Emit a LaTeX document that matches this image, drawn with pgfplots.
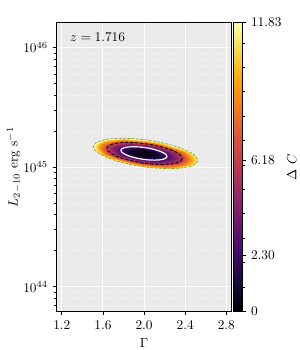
\documentclass[border=0pt]{standalone}
\usepackage{pgfplots}
\pgfplotsset{compat=1.18}
\pgfplotsset{colormap={inferno}{rgb255=(0,0,4) rgb255=(22,11,57) rgb255=(66,10,104) rgb255=(106,23,110) rgb255=(147,38,103) rgb255=(188,55,84) rgb255=(221,81,58) rgb255=(243,120,25) rgb255=(252,165,10) rgb255=(246,215,70) rgb255=(252,255,164)}}
\definecolor{bgg}{RGB}{234,234,234}
\definecolor{oliveline}{RGB}{150,150,60}
\begin{document}
\begin{tikzpicture}
\path[use as bounding box] (-42.5pt,-28.9pt) rectangle (182.5pt,233.6pt);
\begin{axis}[
  scale only axis, width=131.1pt, height=216.6pt,
  xmin=1.15, xmax=2.85, ymin=43.793, ymax=46.207,
  xtick={1.2,1.6,2.0,2.4,2.8}, xticklabels={1.2,1.6,2.0,2.4,2.8},
  ytick={44,45,46}, yticklabels={$10^{44}$,$10^{45}$,$10^{46}$},
  minor ytick={43.8451,43.9031,43.9542,44.3010,44.4771,44.6021,44.6990,44.7782,44.8451,44.9031,44.9542,45.3010,45.4771,45.6021,45.6990,45.7782,45.8451,45.9031,45.9542},
  tick align=outside, xtick pos=bottom, ytick pos=left,
  major tick length=3pt, minor tick length=1.7pt,
  tick style={black, line width=0.6pt},
  xmajorgrids=true, ymajorgrids=true, yminorgrids=true,
  major grid style={white, line width=0.8pt},
  minor grid style={white, dotted, line width=0.5pt},
  axis line style={line width=0.75pt},
  axis background/.style={fill=bgg},
  xlabel={$\Gamma$}, ylabel={$L_{2-10}$ erg s$^{-1}$},
  ylabel shift=-5pt,
  colormap name=inferno, point meta min=0, point meta max=11.83,
  colorbar shift/.style={xshift=0pt},
  colorbar,
  colorbar style={
    at={(parent axis.north east)}, anchor=north west, xshift=1.4pt,
    width=6.75pt,
    ytick={0,2.30,6.18,11.83}, yticklabels={0,2.30,6.18,11.83},
    minor ytick={1,2,3,4,5,6,7,8,9,10,11},
    tick align=outside, ytick pos=right,
    major tick length=3pt, minor tick length=1.7pt,
    axis line style={line width=0.6pt},
    ylabel={$\Delta\ C$},
    ylabel shift=-2.5pt,
  },
]
\addplot[surf, shader=interp, mesh/rows=7, mesh/cols=25, point meta=explicit] table[meta index=2] {
1.9950 45.1140 0
1.9950 45.1140 0
1.9950 45.1140 0
1.9950 45.1140 0
1.9950 45.1140 0
1.9950 45.1140 0
1.9950 45.1140 0
1.9950 45.1140 0
1.9950 45.1140 0
1.9950 45.1140 0
1.9950 45.1140 0
1.9950 45.1140 0
1.9950 45.1140 0
1.9950 45.1140 0
1.9950 45.1140 0
1.9950 45.1140 0
1.9950 45.1140 0
1.9950 45.1140 0
1.9950 45.1140 0
1.9950 45.1140 0
1.9950 45.1140 0
1.9950 45.1140 0
1.9950 45.1140 0
1.9950 45.1140 0
1.9950 45.1140 0
2.1229 45.0987 0.74
2.1174 45.0920 0.74
2.1036 45.0868 0.74
2.0825 45.0834 0.74
2.0555 45.0822 0.74
2.0244 45.0831 0.74
1.9914 45.0861 0.74
1.9587 45.0910 0.74
1.9286 45.0975 0.74
1.9030 45.1051 0.74
1.8838 45.1133 0.74
1.8722 45.1216 0.74
1.8691 45.1293 0.74
1.8746 45.1360 0.74
1.8884 45.1412 0.74
1.9095 45.1446 0.74
1.9365 45.1458 0.74
1.9676 45.1449 0.74
2.0006 45.1419 0.74
2.0333 45.1370 0.74
2.0634 45.1305 0.74
2.0890 45.1229 0.74
2.1082 45.1147 0.74
2.1198 45.1064 0.74
2.1229 45.0987 0.74
2.2229 45.0870 2.30
2.2132 45.0752 2.30
2.1889 45.0660 2.30
2.1516 45.0601 2.30
2.1040 45.0578 2.30
2.0492 45.0594 2.30
1.9909 45.0648 2.30
1.9333 45.0734 2.30
1.8801 45.0849 2.30
1.8350 45.0983 2.30
1.8011 45.1128 2.30
1.7807 45.1274 2.30
1.7751 45.1410 2.30
1.7848 45.1528 2.30
1.8091 45.1620 2.30
1.8464 45.1679 2.30
1.8940 45.1702 2.30
1.9488 45.1686 2.30
2.0071 45.1633 2.30
2.0647 45.1546 2.30
2.1179 45.1431 2.30
2.1630 45.1297 2.30
2.1969 45.1152 2.30
2.2173 45.1006 2.30
2.2229 45.0870 2.30
2.3066 45.0772 4.26
2.2934 45.0611 4.26
2.2603 45.0487 4.26
2.2096 45.0406 4.26
2.1448 45.0376 4.26
2.0702 45.0398 4.26
1.9910 45.0470 4.26
1.9126 45.0588 4.26
1.8402 45.0744 4.26
1.7789 45.0926 4.26
1.7327 45.1123 4.26
1.7049 45.1322 4.26
1.6974 45.1508 4.26
1.7106 45.1669 4.26
1.7437 45.1793 4.26
1.7944 45.1874 4.26
1.8592 45.1904 4.26
1.9338 45.1882 4.26
2.0130 45.1810 4.26
2.0914 45.1692 4.26
2.1638 45.1536 4.26
2.2251 45.1354 4.26
2.2713 45.1157 4.26
2.2991 45.0958 4.26
2.3066 45.0772 4.26
2.3720 45.0697 6.18
2.3561 45.0503 6.18
2.3163 45.0353 6.18
2.2552 45.0256 6.18
2.1771 45.0219 6.18
2.0872 45.0245 6.18
1.9918 45.0333 6.18
1.8972 45.0475 6.18
1.8100 45.0662 6.18
1.7361 45.0882 6.18
1.6805 45.1120 6.18
1.6471 45.1359 6.18
1.6380 45.1583 6.18
1.6539 45.1777 6.18
1.6937 45.1927 6.18
1.7548 45.2024 6.18
1.8329 45.2061 6.18
1.9228 45.2035 6.18
2.0182 45.1947 6.18
2.1128 45.1805 6.18
2.2000 45.1618 6.18
2.2739 45.1398 6.18
2.3295 45.1160 6.18
2.3630 45.0921 6.18
2.3720 45.0697 6.18
2.4466 45.0613 8.75
2.4276 45.0382 8.75
2.3802 45.0203 8.75
2.3076 45.0088 8.75
2.2147 45.0045 8.75
2.1078 45.0076 8.75
1.9943 45.0180 8.75
1.8818 45.0349 8.75
1.7781 45.0572 8.75
1.6902 45.0834 8.75
1.6240 45.1116 8.75
1.5842 45.1400 8.75
1.5734 45.1667 8.75
1.5924 45.1898 8.75
1.6398 45.2077 8.75
1.7124 45.2192 8.75
1.8053 45.2235 8.75
1.9122 45.2204 8.75
2.0257 45.2100 8.75
2.1382 45.1931 8.75
2.2419 45.1708 8.75
2.3298 45.1447 8.75
2.3960 45.1164 8.75
2.4358 45.0880 8.75
2.4466 45.0613 8.75
2.5227 45.0527 11.83
2.5006 45.0259 11.83
2.4455 45.0051 11.83
2.3611 44.9917 11.83
2.2530 44.9866 11.83
2.1287 44.9903 11.83
1.9967 45.0023 11.83
1.8660 45.0220 11.83
1.7453 45.0479 11.83
1.6431 45.0784 11.83
1.5662 45.1112 11.83
1.5199 45.1443 11.83
1.5073 45.1753 11.83
1.5294 45.2021 11.83
1.5845 45.2229 11.83
1.6690 45.2363 11.83
1.7770 45.2414 11.83
1.9013 45.2377 11.83
2.0333 45.2257 11.83
2.1641 45.2060 11.83
2.2847 45.1801 11.83
2.3869 45.1496 11.83
2.4638 45.1168 11.83
2.5101 45.0837 11.83
2.5227 45.0527 11.83
};
% contour 11.83
\addplot[oliveline, line width=0.5pt, dash pattern=on 2.2pt off 1pt] coordinates {
(2.5227,45.0527) (2.5006,45.0259) (2.4455,45.0051) (2.3611,44.9917) (2.2530,44.9866) (2.1287,44.9903) (1.9967,45.0023) (1.8660,45.0220) (1.7453,45.0479) (1.6431,45.0784) (1.5662,45.1112) (1.5199,45.1443) (1.5073,45.1753) (1.5294,45.2021) (1.5845,45.2229) (1.6690,45.2363) (1.7770,45.2414) (1.9013,45.2377) (2.0333,45.2257) (2.1641,45.2060) (2.2847,45.1801) (2.3869,45.1496) (2.4638,45.1168) (2.5101,45.0837)
} -- cycle;
% contour 6.18
\addplot[black, line width=0.7pt, dash pattern=on 2.6pt off 1.2pt] coordinates {
(2.3720,45.0697) (2.3561,45.0503) (2.3163,45.0353) (2.2552,45.0256) (2.1771,45.0219) (2.0872,45.0245) (1.9918,45.0333) (1.8972,45.0475) (1.8100,45.0662) (1.7361,45.0882) (1.6805,45.1120) (1.6471,45.1359) (1.6380,45.1583) (1.6539,45.1777) (1.6937,45.1927) (1.7548,45.2024) (1.8329,45.2061) (1.9228,45.2035) (2.0182,45.1947) (2.1128,45.1805) (2.2000,45.1618) (2.2739,45.1398) (2.3295,45.1160) (2.3630,45.0921)
} -- cycle;
% contour 2.30
\addplot[white, line width=0.9pt] coordinates {
(2.2229,45.0870) (2.2132,45.0752) (2.1889,45.0660) (2.1516,45.0601) (2.1040,45.0578) (2.0492,45.0594) (1.9909,45.0648) (1.9333,45.0734) (1.8801,45.0849) (1.8350,45.0983) (1.8011,45.1128) (1.7807,45.1274) (1.7751,45.1410) (1.7848,45.1528) (1.8091,45.1620) (1.8464,45.1679) (1.8940,45.1702) (1.9488,45.1686) (2.0071,45.1633) (2.0647,45.1546) (2.1179,45.1431) (2.1630,45.1297) (2.1969,45.1152) (2.2173,45.1006)
} -- cycle;
\node[anchor=west] at (rel axis cs:0.05,0.951) {$z = 1.716$};
\end{axis}
\end{tikzpicture}
\end{document}
